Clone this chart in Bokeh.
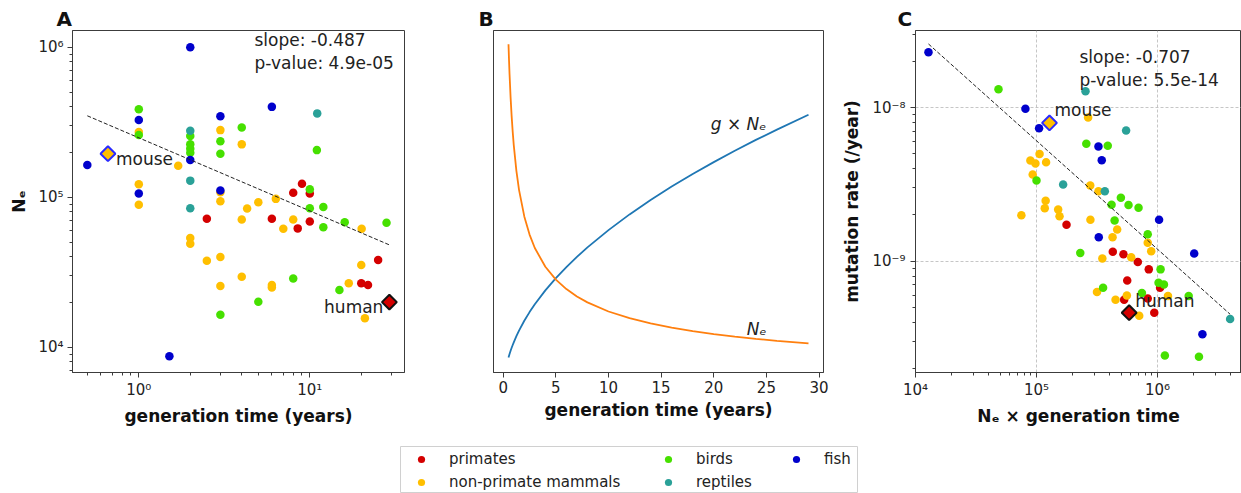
import numpy as np
from bokeh.plotting import figure
from bokeh.layouts import row, column
from bokeh.models import Range1d, FixedTicker, CustomJSTickFormatter, Label, Legend, LegendItem
from bokeh.core.properties import value
from bokeh.embed import file_html
from bokeh.resources import INLINE

# ---------------- data ----------------
groups = ["primates", "non-primate mammals", "birds", "reptiles", "fish"]
group_colors = ["#d40000", "#ffbf00", "#46e000", "#2aa198", "#0000cc"]

# Panel A: generation time (years) vs Ne
a_primates_gen = [2.5, 6.0, 8.0, 9.0, 8.5, 10.0, 10.0, 20.0, 21.9, 25.1]
a_primates_ne = [7.2e4, 7.2e4, 1.07e5, 1.23e5, 6.2e4, 1.06e5, 6.9e4, 2.67e4, 2.6e4, 3.81e4]
a_mammals_gen = [1.0, 1.0, 1.0, 1.7, 2.0, 2.0, 2.5, 3.0, 3.0, 3.0, 3.0, 3.0, 4.0, 4.0, 4.0,
                 4.3, 5.0, 6.0, 6.0, 6.33, 7.0, 8.0, 16.9, 20.1, 20.0, 21.0]
a_mammals_ne = [2.72e5, 1.22e5, 8.9e4, 1.62e5, 5.35e4, 4.9e4, 3.77e4, 2.8e5, 1.08e5, 9.4e4,
                4.0e4, 2.56e4, 2.25e5, 7.1e4, 2.95e4, 8.4e4, 9.27e4, 2.6e4, 2.5e4, 9.75e4,
                6.17e4, 7.1e4, 2.67e4, 6.17e4, 3.53e4, 1.56e4]
a_birds_gen = [1.0, 1.0, 2.0, 2.0, 2.0, 2.0, 3.0, 3.0, 3.0, 4.0, 5.0, 8.0, 10.0, 10.0, 11.0,
               12.0, 12.0, 16.0, 14.9, 28.1]
a_birds_ne = [3.85e5, 2.6e5, 2.56e5, 2.25e5, 2.1e5, 1.98e5, 2.36e5, 1.95e5, 1.65e4, 2.91e5,
              2.01e4, 2.87e4, 1.13e5, 8.45e4, 2.06e5, 8.6e4, 6.3e4, 6.8e4, 2.41e4, 6.76e4]
a_reptiles_gen = [2.0, 2.0, 2.0, 11.05]
a_reptiles_ne = [2.77e5, 1.29e5, 8.45e4, 3.62e5]
a_fish_gen = [0.5, 1.0, 1.0, 1.51, 2.0, 2.0, 3.0, 3.0, 6.0]
a_fish_ne = [1.64e5, 3.27e5, 1.06e5, 8.7e3, 1.0e6, 1.77e5, 3.47e5, 1.11e5, 4.0e5]
a_mouse = (0.66, 1.95e5)
a_human = (29.2, 2.0e4)
a_slope = -0.487
a_intercept = 5.396
a_pvalue = "4.9e-05"

# Panel B: schematic curves (arbitrary units)
b_gen = [0.5, 0.55, 0.6, 0.7, 0.8, 0.9, 1.0, 1.25, 1.5, 2.0, 2.5, 3.0, 4.0, 5.0, 6.0, 7.0,
         8.0, 10.0, 12.0, 14.0, 16.0, 18.0, 20.0, 22.0, 24.0, 26.0, 29.0]
b_ne = [328.2, 312.2, 298.2, 274.9, 256.1, 240.6, 227.4, 201.7, 182.7, 156.1, 137.9, 124.5,
        105.7, 92.9, 83.4, 76.0, 70.1, 61.0, 54.3, 49.1, 44.9, 41.4, 38.4, 35.9, 33.7, 31.7, 29.2]
b_gne = [15.0, 16.8, 18.5, 21.7, 24.7, 27.5, 30.2, 36.3, 41.9, 51.7, 60.4, 68.2, 82.1, 94.4,
         105.4, 115.6, 125.1, 142.4, 158.1, 172.5, 185.9, 198.5, 210.4, 221.7, 232.6, 242.9, 257.8]
b_xticks = [0, 5, 10, 15, 20, 25, 30]

# Panel C: Ne x generation time vs mutation rate (/year)
c_primates_x = [1.77e5, 4.27e5, 5.23e5, 6.87e5, 8.47e5, 5.62e5, 1.05e6, 8.3e5, 5.3e5, 9.4e5]
c_primates_y = [1.73e-9, 1.15e-9, 1.11e-9, 9.86e-10, 8.84e-10, 7.48e-10, 6.71e-10, 5.71e-10,
                5.6e-10, 4.61e-10]
c_mammals_x = [2.67e5, 1.06e5, 8.9e4, 9.8e4, 1.2e5, 9.3e4, 2.78e5, 3.25e5, 1.19e5, 1.17e5,
               1.51e5, 1.55e5, 7.5e4, 2.79e5, 4.64e5, 4.25e5, 8.3e5, 8.87e5, 6.06e5, 3.5e5,
               3.16e5, 5.58e5, 1.22e6, 4.5e5, 7.06e5]
c_mammals_y = [8.65e-9, 4.99e-9, 4.53e-9, 4.33e-9, 4.41e-9, 3.67e-9, 3.11e-9, 2.86e-9, 2.48e-9,
               2.21e-9, 2.17e-9, 1.96e-9, 1.99e-9, 1.86e-9, 1.61e-9, 1.43e-9, 1.32e-9, 1.16e-9,
               1.06e-9, 1.04e-9, 6.29e-10, 5.98e-10, 5.92e-10, 5.6e-10, 4.41e-10]
c_birds_x = [4.85e4, 2.58e5, 3.88e5, 1.0e5, 4.98e5, 4.17e5, 5.76e5, 6.97e5, 4.42e5, 8.3e5,
             2.3e5, 1.06e6, 1.02e6, 1.13e6, 3.55e5, 7.43e5, 1.81e6, 1.15e6, 2.2e6]
c_birds_y = [1.32e-8, 5.82e-9, 5.65e-9, 3.36e-9, 2.59e-9, 2.33e-9, 2.32e-9, 2.23e-9, 1.84e-9,
             1.50e-9, 1.13e-9, 8.84e-10, 7.23e-10, 7.05e-10, 6.71e-10, 6.19e-10, 5.92e-10,
             2.43e-10, 2.38e-10]
c_reptiles_x = [2.54e5, 5.5e5, 1.66e5, 3.67e5, 3.98e6]
c_reptiles_y = [1.28e-8, 7.1e-9, 3.16e-9, 2.86e-9, 4.2e-10]
c_fish_x = [1.28e4, 8.1e4, 1.05e5, 3.25e5, 3.46e5, 1.03e6, 3.27e5, 2.01e6, 2.35e6]
c_fish_y = [2.3e-8, 9.85e-9, 7.36e-9, 5.6e-9, 4.55e-9, 1.86e-9, 1.43e-9, 1.12e-9, 3.34e-10]
c_mouse = (1.28e5, 7.97e-9)
c_human = (5.83e5, 4.61e-10)
c_slope = -0.707
c_intercept = -4.68
c_pvalue = "5.5e-14"

# ---------------- helpers ----------------
FONT = "DejaVu Sans"
SPINE = "#3c3c3c"

sup_fmt_code = """
const sup = {"-": "\u207b", "0": "\u2070", "1": "\u00b9", "2": "\u00b2", "3": "\u00b3",
             "4": "\u2074", "5": "\u2075", "6": "\u2076", "7": "\u2077", "8": "\u2078", "9": "\u2079"};
const e = Math.round(Math.log10(tick));
return "10" + String(e).split("").map(c => sup[c]).join("");
"""


def log_ticker(lo, hi):
    major = [10.0 ** e for e in range(lo, hi + 1)]
    minor = [m * 10.0 ** e for e in range(lo - 1, hi + 1) for m in range(2, 10)]
    return FixedTicker(ticks=major, minor_ticks=minor)


def style(p, letter, offset):
    p.outline_line_color = SPINE
    p.outline_line_width = 1
    p.background_fill_color = "white"
    p.border_fill_color = "white"
    for ax in p.axis:
        ax.axis_line_color = SPINE
        ax.major_tick_line_color = SPINE
        ax.minor_tick_line_color = SPINE
        ax.major_tick_out = 5
        ax.major_tick_in = 0
        ax.minor_tick_out = 3
        ax.minor_tick_in = 0
        ax.major_label_text_font = FONT
        ax.major_label_text_font_size = "15px"
        ax.major_label_text_color = "#222222"
        ax.axis_label_text_font = FONT
        ax.axis_label_text_font_size = "17px"
        ax.axis_label_text_font_style = "bold"
        ax.axis_label_text_color = "#111111"
    p.title.text = letter
    p.title.align = "left"
    p.title.offset = offset
    p.title.text_font = FONT
    p.title.text_font_size = "20px"
    p.title.text_font_style = "bold"
    p.title.text_color = "#111111"
    p.title.standoff = 0


def add_groups(p, xs_list, ys_list):
    for xs, ys, col in zip(xs_list, ys_list, group_colors):
        p.scatter(xs, ys, size=8.5, fill_color=col, line_color=None)


# ---------------- Panel A ----------------
pa = figure(width=420, height=440, x_axis_type="log", y_axis_type="log",
            x_range=Range1d(10 ** -0.3877, 10 ** 1.5538),
            y_range=Range1d(10 ** 3.832, 10 ** 6.111),
            min_border_left=72, min_border_right=16, min_border_top=29, min_border_bottom=68,
            toolbar_location=None, output_backend="svg")
style(pa, "A", -16)
pa.grid.visible = False
pa.xaxis.ticker = log_ticker(0, 1)
pa.yaxis.ticker = log_ticker(4, 6)
pa.xaxis.formatter = CustomJSTickFormatter(code=sup_fmt_code)
pa.yaxis.formatter = CustomJSTickFormatter(code=sup_fmt_code)
pa.xaxis.major_label_standoff = 3
pa.yaxis.major_label_standoff = 4
pa.xaxis.axis_label = "generation time (years)"
pa.yaxis.axis_label = "N\u2091"
pa.xaxis.axis_label_standoff = 4
pa.yaxis.axis_label_standoff = 6

a_x = [a_primates_gen, a_mammals_gen, a_birds_gen, a_reptiles_gen, a_fish_gen]
a_y = [a_primates_ne, a_mammals_ne, a_birds_ne, a_reptiles_ne, a_fish_ne]
add_groups(pa, a_x, a_y)
a_all = sum(a_x, []) + [a_mouse[0], a_human[0]]
a_fx = np.array([min(a_all), max(a_all)])
a_fy = 10 ** (a_intercept + a_slope * np.log10(a_fx))
pa.line(a_fx, a_fy, line_color="#222222", line_dash="4 2", line_width=1)
pa.scatter([a_mouse[0]], [a_mouse[1]], marker="square", angle=np.pi / 4, size=10.5,
           fill_color=group_colors[1], line_color="#2a2aff", line_width=2)
pa.scatter([a_human[0]], [a_human[1]], marker="square", angle=np.pi / 4, size=10.5,
           fill_color=group_colors[0], line_color="#111111", line_width=2)
pa.text(x=[a_mouse[0]], y=[a_mouse[1]], text=["mouse"], x_offset=8, y_offset=5,
        text_font=value(FONT), text_font_size="17px", text_baseline="middle",
        text_align="left", text_color="#222222")
pa.text(x=[a_human[0]], y=[a_human[1]], text=["human"], x_offset=-6, y_offset=5,
        text_font=value(FONT), text_font_size="17px", text_baseline="middle",
        text_align="right", text_color="#222222")
pa.add_layout(Label(x=182, y=343, x_units="screen", y_units="screen",
                    text=f"slope: {a_slope}\np-value: {a_pvalue}",
                    text_font=FONT, text_font_size="17px", text_baseline="top",
                    text_line_height=1.18, text_color="#222222"))

# ---------------- Panel B ----------------
pb = figure(width=415, height=440, x_range=Range1d(-0.925, 30.425), y_range=Range1d(0, 342),
            min_border_left=73, min_border_right=12, min_border_top=30, min_border_bottom=68,
            toolbar_location=None, output_backend="svg")
style(pb, "B", -15)
pb.grid.visible = False
pb.xaxis.ticker = FixedTicker(ticks=b_xticks)
pb.xaxis.minor_tick_out = 0
pb.xaxis.major_label_standoff = 3
pb.xaxis.axis_label = "generation time (years)"
pb.xaxis.axis_label_standoff = 4
pb.yaxis.ticker = FixedTicker(ticks=[])
pb.yaxis.minor_tick_line_color = None
pb.yaxis.major_tick_line_color = None

pb.line(b_gen, b_gne, line_color="#1f77b4", line_width=1.8)
pb.line(b_gen, b_ne, line_color="#ff7f0e", line_width=1.8)
i_g = b_gen.index(20.0)
i_n = b_gen.index(24.0)
pb.text(x=[b_gen[i_g]], y=[b_gne[i_g]], text=["g \u00d7 N\u2091"], x_offset=-3, y_offset=-38,
        text_font=value(FONT), text_font_size="17px", text_font_style="italic",
        text_baseline="middle", text_align="left", text_color="#222222")
pb.text(x=[b_gen[i_n]], y=[b_ne[i_n]], text=["N\u2091"], x_offset=-9, y_offset=-10,
        text_font=value(FONT), text_font_size="17px", text_font_style="italic",
        text_baseline="middle", text_align="left", text_color="#222222")

# ---------------- Panel C ----------------
pc = figure(width=406, height=440, x_axis_type="log", y_axis_type="log",
            x_range=Range1d(1e4, 10 ** 6.694), y_range=Range1d(10 ** -9.726, 10 ** -7.496),
            min_border_left=80, min_border_right=0, min_border_top=30, min_border_bottom=68,
            toolbar_location=None, output_backend="svg")
style(pc, "C", -18)
pc.xaxis.ticker = log_ticker(4, 6)
pc.yaxis.ticker = log_ticker(-9, -8)
pc.xaxis.formatter = CustomJSTickFormatter(code=sup_fmt_code)
pc.yaxis.formatter = CustomJSTickFormatter(code=sup_fmt_code)
pc.xaxis.major_label_standoff = 3
pc.yaxis.major_label_standoff = 5
pc.xaxis.axis_label = "N\u2091 \u00d7 generation time"
pc.yaxis.axis_label = "mutation rate (/year)"
pc.xaxis.axis_label_standoff = 4
pc.yaxis.axis_label_standoff = 7
pc.grid.grid_line_color = "#b8b8b8"
pc.grid.grid_line_dash = "3 2"
pc.grid.grid_line_width = 0.8

c_x = [c_primates_x, c_mammals_x, c_birds_x, c_reptiles_x, c_fish_x]
c_y = [c_primates_y, c_mammals_y, c_birds_y, c_reptiles_y, c_fish_y]
add_groups(pc, c_x, c_y)
c_all = sum(c_x, []) + [c_mouse[0], c_human[0]]
c_fx = np.array([min(c_all), max(c_all)])
c_fy = 10 ** (c_intercept + c_slope * np.log10(c_fx))
pc.line(c_fx, c_fy, line_color="#222222", line_dash="4 2", line_width=1)
pc.scatter([c_mouse[0]], [c_mouse[1]], marker="square", angle=np.pi / 4, size=10.5,
           fill_color=group_colors[1], line_color="#2a2aff", line_width=2)
pc.scatter([c_human[0]], [c_human[1]], marker="square", angle=np.pi / 4, size=10.5,
           fill_color=group_colors[0], line_color="#111111", line_width=2)
pc.text(x=[c_mouse[0]], y=[c_mouse[1]], text=["mouse"], x_offset=5, y_offset=-13,
        text_font=value(FONT), text_font_size="17px", text_baseline="middle",
        text_align="left", text_color="#222222")
pc.text(x=[c_human[0]], y=[c_human[1]], text=["human"], x_offset=6, y_offset=-12,
        text_font=value(FONT), text_font_size="17px", text_baseline="middle",
        text_align="left", text_color="#222222")
pc.add_layout(Label(x=164, y=326, x_units="screen", y_units="screen",
                    text=f"slope: {c_slope}\np-value: {c_pvalue}",
                    text_font=FONT, text_font_size="17px", text_baseline="top",
                    text_line_height=1.18, text_color="#222222"))

# ---------------- Legend strip ----------------
pl = figure(width=1241, height=53, x_range=Range1d(0, 1), y_range=Range1d(0, 1),
            min_border_left=400, min_border_right=384, min_border_top=6, min_border_bottom=0,
            x_axis_location=None, y_axis_location=None,
            toolbar_location=None, output_backend="svg")
pl.grid.visible = False
pl.outline_line_color = "#d0d0d0"
pl.outline_line_width = 1
# one off-range point per group so the legend can draw each glyph
leg_renderers = [pl.scatter([5.0], [5.0], size=8, fill_color=c, line_color=None)
                 for c in group_colors]
cols = [[0, 1], [2, 3], [4]]
col_x = [12, 259, 387]
col_y = [2, 2, 25]
for idxs, lx, ly in zip(cols, col_x, col_y):
    items = [LegendItem(label=groups[i], renderers=[leg_renderers[i]]) for i in idxs]
    leg = Legend(items=items, location=(lx, ly), orientation="vertical",
                 padding=0, margin=0, spacing=5, glyph_width=18, glyph_height=18,
                 label_height=18, label_standoff=19, border_line_color=None,
                 background_fill_alpha=0, label_text_font=FONT,
                 label_text_font_size="15px", label_text_color="#222222")
    pl.add_layout(leg, "center")

layout = column(row(pa, pb, pc), pl)
open("out.html", "w").write(file_html(layout, INLINE))
